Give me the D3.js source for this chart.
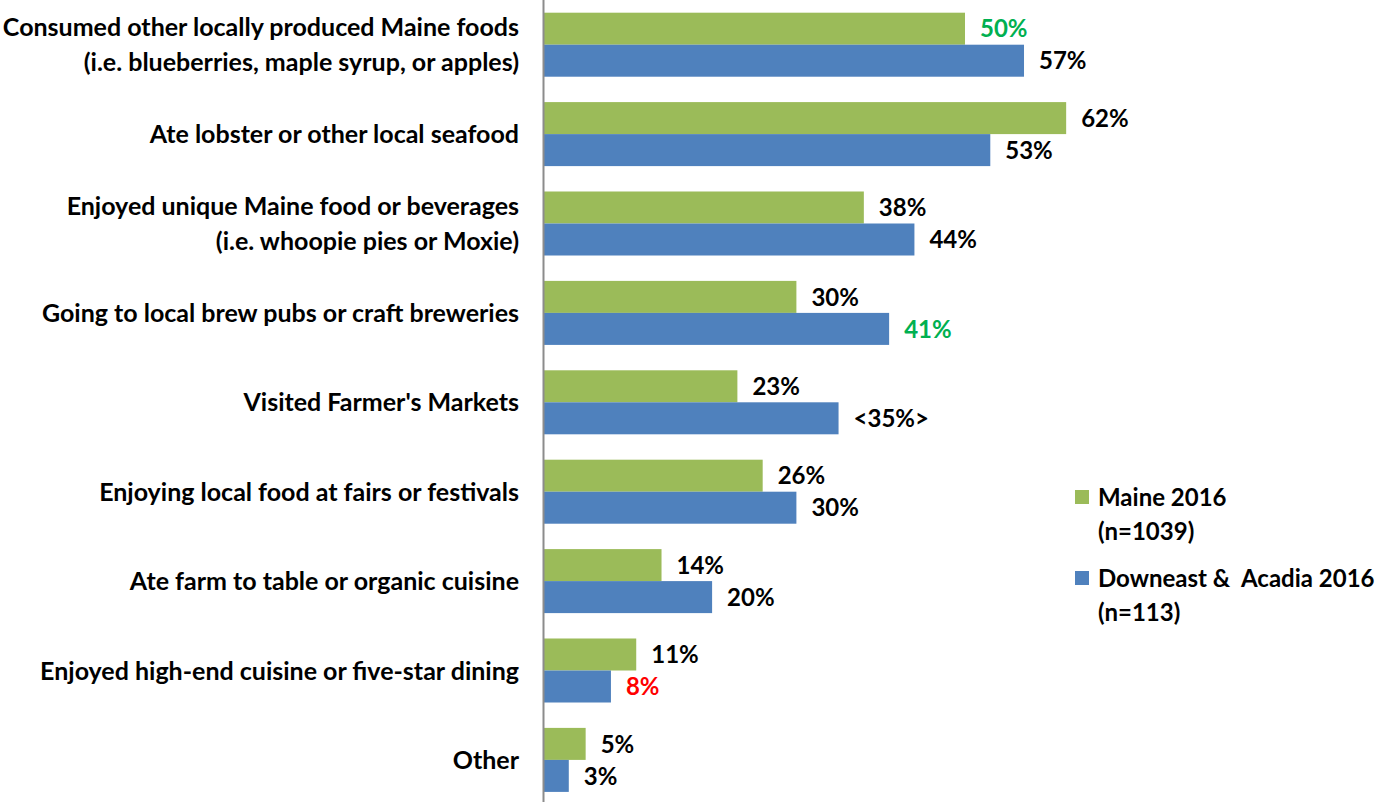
<!DOCTYPE html>
<html>
<head>
<meta charset="utf-8">
<script src="https://cdn.jsdelivr.net/npm/d3@7"></script>
<style>
  html, body { margin: 0; padding: 0; background: #fff; }
  svg { display: block; }
  text { font-family: Lato, "Open Sans", sans-serif; font-weight: 700; fill: #000; white-space: pre; }
</style>
</head>
<body>
<svg id="chart" width="1380" height="804"></svg>
<script>
// Activities (two-line labels are split with "|")
const categories = [
  "Consumed other locally produced Maine foods|(i.e. blueberries, maple syrup, or apples)",
  "Ate lobster or other local seafood",
  "Enjoyed unique Maine food or beverages|(i.e. whoopie pies or Moxie)",
  "Going to local brew pubs or craft breweries",
  "Visited Farmer's Markets",
  "Enjoying local food at fairs or festivals",
  "Ate farm to table or organic cuisine",
  "Enjoyed high-end cuisine or five-star dining",
  "Other"
];
const maine2016 = [50, 62, 38, 30, 23, 26, 14, 11, 5];
const downeast2016 = [57, 53, 44, 41, 35, 30, 20, 8, 3];
// Label text overrides and highlight colours for particular values
const downeastLabels = ["57%", "53%", "44%", "41%", "<35%>", "30%", "20%", "8%", "3%"];
const maineLabelColors = ["#00B050", "#000", "#000", "#000", "#000", "#000", "#000", "#000", "#000"];
const downeastLabelColors = ["#000", "#000", "#000", "#00B050", "#000", "#000", "#000", "#FF0000", "#000"];
const seriesNames = ["Maine 2016|(n=1039)", "Downeast &  Acadia 2016|(n=113)"];

const colors = { maine: "#9BBB59", downeast: "#4F81BD" };

const svg = d3.select("#chart");
const axisX = 543.5;

const x = d3.scaleLinear().domain([0, 100]).range([axisX, axisX + 843]);
const y = d3.scaleBand().domain(d3.range(categories.length)).range([0, 804.6]).paddingInner(0.284).paddingOuter(0.142);
const barH = y.bandwidth() / 2;

const g = svg.append("g");

// Bars
const groups = g.selectAll("g.cat").data(categories).join("g").attr("class", "cat");

groups.append("rect")
  .attr("x", axisX)
  .attr("y", (d, i) => y(i))
  .attr("width", (d, i) => x(maine2016[i]) - axisX)
  .attr("height", barH)
  .attr("fill", colors.maine);

groups.append("rect")
  .attr("x", axisX)
  .attr("y", (d, i) => y(i) + barH)
  .attr("width", (d, i) => x(downeast2016[i]) - axisX)
  .attr("height", barH)
  .attr("fill", colors.downeast);

// Value labels
const valFs = 24;
groups.append("text")
  .attr("x", (d, i) => x(maine2016[i]) + 15)
  .attr("y", (d, i) => y(i) + barH / 2)
  .attr("dy", "0.36em")
  .attr("font-size", valFs)
  .style("fill", (d, i) => maineLabelColors[i])
  .text((d, i) => maine2016[i] + "%");

groups.append("text")
  .attr("x", (d, i) => x(downeast2016[i]) + 15)
  .attr("y", (d, i) => y(i) + barH * 1.5)
  .attr("dy", "0.36em")
  .attr("font-size", valFs)
  .style("fill", (d, i) => downeastLabelColors[i])
  .text((d, i) => downeastLabels[i]);

// Category labels
const catFs = 25;
groups.each(function(d, i) {
  const lines = d.split("|");
  const cy = y(i) + barH;
  const lh = 35;
  const t = d3.select(this).append("text")
    .attr("text-anchor", "end")
    .attr("font-size", catFs);
  lines.forEach((ln, k) => {
    t.append("tspan")
      .attr("x", 519)
      .attr("y", cy + (k - (lines.length - 1) / 2) * lh)
      .attr("dy", "0.36em")
      .text(ln);
  });
});

// Vertical category axis line
svg.append("line")
  .attr("x1", axisX).attr("x2", axisX)
  .attr("y1", 0).attr("y2", 802)
  .attr("stroke", "#8c8c8c")
  .attr("stroke-width", 2);

// Legend
const legend = svg.append("g");
const legendItems = [
  { name: seriesNames[0], color: colors.maine, y: 497 },
  { name: seriesNames[1], color: colors.downeast, y: 578 }
];
legendItems.forEach(it => {
  legend.append("rect")
    .attr("x", 1075).attr("y", it.y - 7)
    .attr("width", 14).attr("height", 14)
    .attr("fill", it.color);
  const t = legend.append("text").attr("font-size", 24);
  it.name.split("|").forEach((ln, k) => {
    t.append("tspan")
      .attr("x", 1098)
      .attr("y", it.y + k * 34)
      .attr("dy", "0.36em")
      .text(ln);
  });
});
</script>
</body>
</html>
